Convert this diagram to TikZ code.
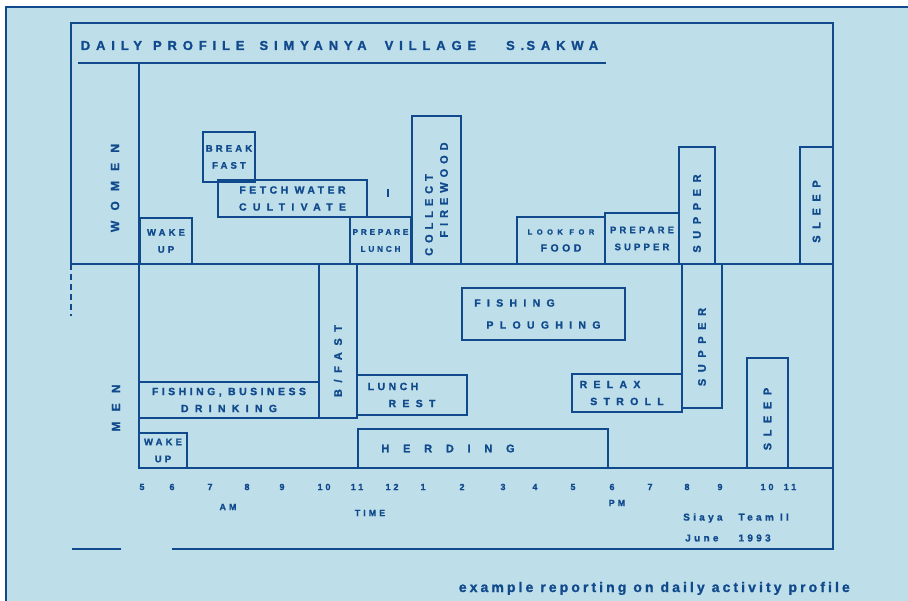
\documentclass[tikz,border=0pt]{standalone}
\usepackage{fontspec}
\newfontfamily\hand[LetterSpace=33,BoldFeatures={FakeBold=1.2}]{Liberation Sans}
\newfontfamily\handm[LetterSpace=45,BoldFeatures={FakeBold=1.2}]{Liberation Sans}
\newfontfamily\handw[LetterSpace=60,BoldFeatures={FakeBold=1.2}]{Liberation Sans}
\newfontfamily\handx[LetterSpace=85,BoldFeatures={FakeBold=1.2}]{Liberation Sans}
\newfontfamily\handxx[LetterSpace=125,BoldFeatures={FakeBold=1.2}]{Liberation Sans}
\newfontfamily\titlef[LetterSpace=45,BoldFeatures={FakeBold=1.2}]{Liberation Sans}
\newfontfamily\capf[LetterSpace=22,BoldFeatures={FakeBold=1.2}]{Liberation Sans}
\definecolor{ink}{RGB}{16,74,140}
\definecolor{paper}{RGB}{190,222,234}
\newcommand\lbl{\hand\bfseries\fontsize{10.5}{17}\selectfont}
\newcommand\vlbl{\handw\bfseries\fontsize{11}{15}\selectfont}
\newcommand\mkbox[7][]{\node[box,#1,minimum width={#5-#3},minimum height={#6-#4}] (#2) at ({(#3+#5)/2},{(#4+#6)/2}) {#7};}
\newcommand\mkvbox[7][]{\node[box,rotate=90,font=\vlbl,#1,minimum width={#6-#4},minimum height={#5-#3}] (#2) at ({(#3+#5)/2},{(#4+#6)/2}) {#7};}
\begin{document}
\begin{tikzpicture}[x=1pt,y=-1pt,line width=1.7pt,
  box/.style={draw=ink,inner sep=0pt,outer sep=0pt,align=center,text=ink,font=\lbl},
  frame/.style={draw=ink,line width=1.7pt},
  txt/.style={text=ink,inner sep=0pt},
  ticklbl/.style={txt,font=\hand\bfseries\fontsize{9}{10}\selectfont}]
\useasboundingbox (0,0) rectangle (908,601);
\fill[white] (0,0) rectangle (908,601);
\fill[paper] (6,7) rectangle (908,601);
\draw[ink,line width=1.2pt] (6,601) -- (6,7) -- (908,7);

% frame
\coordinate (tl) at (71,23);
\coordinate (tr) at (833,23);
\coordinate (br) at (833,549);
\draw[frame] (71,264) -- (tl) -- (tr) -- (br) -- (172,549);
\draw[frame] (121,549) -- (72,549);
\draw[frame,dash pattern=on 6pt off 4pt] (71,264) -- (71,316);
\draw[frame] (78,63) -- (606,63);
\draw[frame] (139,63) -- (139,468);
\draw[frame] (71,264) -- (833,264);
\draw[frame] (139,468) -- (833,468);
\draw[frame,line width=1.2pt] (388,189) -- (388,197);

% title
\node[txt,anchor=base west,font=\titlef\bfseries\fontsize{13}{15}\selectfont] (title) at (80,50)
  {DAILY\hspace{11pt}PROFILE\hspace{15pt}SIMYANYA\hspace{18pt}VILLAGE\hspace{30pt}S.\,SAKWA};

% side labels
\node[txt,rotate=90,font=\handx\bfseries\fontsize{12}{14}\selectfont] (women) at (115,188) {WOMEN};
\node[txt,rotate=90,font=\handx\bfseries\fontsize{12}{14}\selectfont] (men) at (116,408) {MEN};

% women
\mkbox[font=\hand\bfseries\fontsize{9.5}{17}\selectfont]{wwake}{140}{218}{192}{264}{WAKE\\UP}
\mkbox[font=\hand\bfseries\fontsize{9.5}{17}\selectfont]{wbreak}{203}{132}{255}{182}{BREAK\\FAST}
\mkbox{wfetch}{218}{180}{367}{217}{FETCH WATER\\{\handw CULTIVATE}}
\mkbox[font=\hand\bfseries\fontsize{8.3}{17}\selectfont]{wlunch}{350}{217}{411}{264}{PREPARE\\LUNCH}
\mkvbox[font=\handm\bfseries\fontsize{11}{15}\selectfont]{wfire}{412}{116}{461}{264}{COLLECT\hspace*{50pt}\\FIREWOOD}
\mkbox{wfood}{517}{217}{605}{264}{{\handw\fontsize{7.5}{8}\selectfont LOOK FOR}\\FOOD}
\mkbox[font=\hand\bfseries\fontsize{9.5}{17}\selectfont]{wprep}{605}{213}{679}{264}{PREPARE\\SUPPER}
\mkvbox{wsupper}{679}{147}{715}{264}{SUPPER\hspace*{16pt}}
\mkvbox{wsleep}{800}{147}{833}{264}{SLEEP\hspace*{12pt}}

% men
\mkbox[font=\hand\bfseries\fontsize{9.5}{17}\selectfont]{mwake}{139}{433}{187}{468}{WAKE\\UP}
\mkbox{mfish}{139}{382}{319}{418}{FISHING, BUSINESS\\{\handw DRINKING}}
\mkvbox{mbfast}{319}{264}{357}{418}{B/FAST\hspace*{40pt}}
\mkbox{mlunch}{357}{375}{467}{415}{LUNCH\hspace*{38pt}\\{\handw REST}}
\mkbox[font=\handxx\bfseries\fontsize{11}{12}\selectfont]{mherd}{358}{429}{608}{468}{HERDING\hspace*{70pt}}
\mkbox[font=\handw\bfseries\fontsize{10.5}{22}\selectfont]{mplough}{462}{288}{625}{340}{FISHING\hspace*{58pt}\\PLOUGHING}
\mkbox[font=\handw\bfseries\fontsize{10.5}{17}\selectfont]{mrelax}{572}{374}{682}{412}{RELAX\hspace*{34pt}\\STROLL}
\mkvbox{msupper}{682}{264}{722}{408}{SUPPER\hspace*{22pt}}
\mkvbox{msleep}{747}{358}{788}{468}{SLEEP\hspace*{12pt}}

% time axis labels
\foreach \x/\t [count=\i] in {142/5,172/6,210/7,247/8,282/9,324/10,357/11,392/12,423/1,462/2,503/3,535/4,573/5,612/6,650/7,687/8,720/9,767/10,790/11}
  \node[ticklbl] (tick\i) at (\x,487) {\t};
\node[ticklbl] (am) at (228,507) {AM};
\node[ticklbl] (pm) at (617,503) {PM};
\node[ticklbl] (time) at (370,513) {TIME};
\node[txt,font=\hand\bfseries\fontsize{10}{12}\selectfont] (team) at (736,518) {Siaya\hspace{16pt}Team II};
\node[txt,font=\hand\bfseries\fontsize{10}{12}\selectfont] (date) at (728,538) {June\hspace{20pt}1993};

% caption
\node[txt,anchor=base west,font=\capf\bfseries\fontsize{14}{16}\selectfont] (caption) at (458,592) {example reporting on daily activity profile};
\end{tikzpicture}
\end{document}
